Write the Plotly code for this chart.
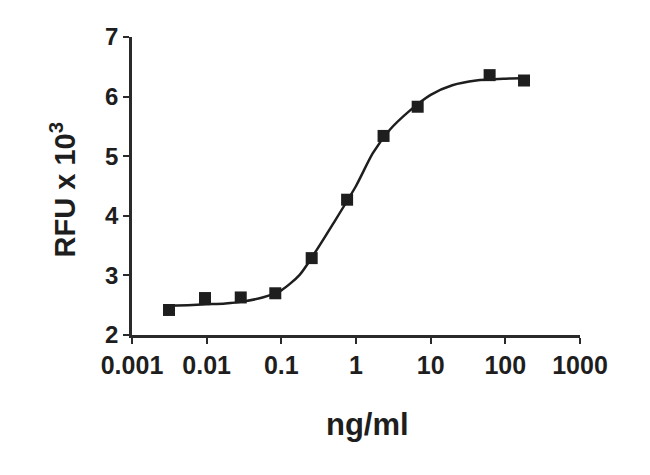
import plotly.graph_objects as go

# Measured points
conc = [0.00313, 0.0095, 0.0286, 0.083, 0.255, 0.76, 2.34, 6.7, 61.6, 178]
rfu = [2.42, 2.62, 2.63, 2.70, 3.29, 4.27, 5.34, 5.83, 6.36, 6.27]

# Fitted curve
curve_x = [0.00291, 0.0056, 0.01, 0.0178, 0.03, 0.056, 0.1, 0.176, 0.295, 0.49, 1.0, 1.68, 2.82, 5.21, 10.0, 19.5, 40.7, 100.0, 189.0]
curve_y = [2.49, 2.50, 2.515, 2.53, 2.56, 2.63, 2.75, 3.01, 3.42, 3.86, 4.50, 5.05, 5.44, 5.76, 6.03, 6.19, 6.27, 6.30, 6.31]

x_tickvals = [0.001, 0.01, 0.1, 1, 10, 100, 1000]
x_ticktext = ["0.001", "0.01", "0.1", "1", "10", "100", "1000"]
y_tickvals = [2, 3, 4, 5, 6, 7]

x_title = "ng/ml"
y_title = "RFU x 10<sup>3</sup>"

FONT = "Liberation Sans, Arial, sans-serif"
INK = "#1e1e1e"

fig = go.Figure()
fig.add_trace(go.Scatter(
    x=curve_x, y=curve_y, mode="lines",
    line=dict(color=INK, width=2.5, shape="spline", smoothing=0.7),
    hoverinfo="skip", showlegend=False,
))
fig.add_trace(go.Scatter(
    x=conc, y=rfu, mode="markers",
    marker=dict(symbol="square", size=12, color=INK),
    showlegend=False,
))

axis_common = dict(
    showline=True, linecolor="#2a2a2a", linewidth=2.5,
    ticks="outside", tickcolor="#2a2a2a", tickwidth=2, ticklen=6,
    showgrid=False, zeroline=False, automargin=False,
)

fig.update_layout(
    width=650, height=475,
    margin=dict(l=124, r=78, t=29, b=148),
    paper_bgcolor="white", plot_bgcolor="white",
    font=dict(family=FONT, color=INK),
    xaxis=dict(
        type="log", range=[-3, 3],
        tickvals=x_tickvals, ticktext=x_ticktext,
        tickfont=dict(family=FONT, size=25, color=INK, weight="bold"),
        **axis_common,
    ),
    yaxis=dict(
        range=[2, 7], tickvals=y_tickvals,
        tickfont=dict(family=FONT, size=24, color=INK, weight="bold"),
        **axis_common,
    ),
    annotations=[
        dict(text="<b>" + x_title + "</b>", xref="paper", yref="paper",
             x=0.5246, y=-0.299, xanchor="center", yanchor="middle",
             showarrow=False, font=dict(family=FONT, size=31, color=INK)),
        dict(text="<b>" + y_title + "</b>", xref="paper", yref="paper",
             x=-0.155, y=0.487, xanchor="center", yanchor="middle", textangle=-90,
             showarrow=False, font=dict(family=FONT, size=29, color=INK)),
    ],
)

fig.write_html("out.html")
